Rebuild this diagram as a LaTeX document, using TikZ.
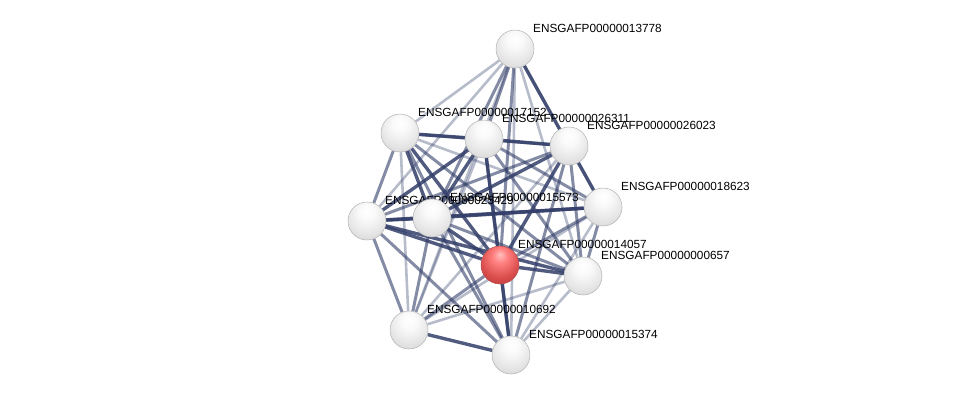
\documentclass[tikz,border=0pt]{standalone}
\usepackage{fontspec}
\setmainfont{Liberation Sans}
\usetikzlibrary{backgrounds}
\definecolor{edgeblue}{RGB}{50,62,105}
\pgfdeclareradialshading{lightball}{\pgfpoint{0bp}{14bp}}{%
	color(0bp)=(white); color(10bp)=(white!96!gray); color(26bp)=(gray!20);
	color(42bp)=(gray!38); color(56bp)=(gray!58); color(70bp)=(gray!68)}
\pgfdeclareradialshading{redball}{\pgfpoint{0bp}{14bp}}{%
	color(0bp)=(red!25); color(10bp)=(red!50); color(26bp)=(red!65!white!85!black);
	color(42bp)=(red!70!white!70!black); color(56bp)=(red!55!black); color(70bp)=(red!45!black)}

\begin{document}
\begin{tikzpicture}
[
	x=1pt,y=-1pt,
	protein/.style={circle,draw=gray!60,line width=0.5pt,shading=lightball,inner sep=0pt,minimum size=38pt},
	querypt/.style={protein,draw=red!40!gray,shading=redball},
	lbl/.style={anchor=west,inner sep=0pt,font=\fontsize{11.8}{12}\selectfont},
	weak/.style={edgeblue,opacity=0.35,line width=2.6pt},
	mid/.style={edgeblue,opacity=0.6,line width=3pt},
	strong/.style={edgeblue,opacity=0.85,line width=3.4pt}
]
	\useasboundingbox (0,0) rectangle (975,400);

	% proteins, each with its label
	\foreach \id/\x/\y in {13778/515/49, 17152/400/133, 26311/484/139, 26023/569/146,
		18623/603/207, 25429/367/221, 15573/432/218, 00657/583/276,
		10692/409/330, 15374/511/355} {
		\node[protein] (p\id) at (\x,\y) {};
		\node[lbl] (l\id) at (\x+18,\y-21) {ENSGAFP000000\id};
	}
	\node[querypt] (p14057) at (500,265) {};
	\node[lbl] (l14057) at (518,244) {ENSGAFP00000014057};

	% interactions
	\begin{scope}[on background layer]
		\foreach \a/\b in {13778/17152, 13778/18623, 13778/25429, 13778/00657,
			13778/10692, 13778/15374, 17152/18623, 17152/10692, 26311/10692,
			26023/10692, 18623/10692, 18623/15374, 00657/10692, 00657/15374} {
			\draw[weak] (p\a) -- (p\b);
		}
		\foreach \a/\b in {13778/26311, 13778/15573, 13778/14057, 17152/26023,
			17152/25429, 17152/00657, 17152/15374, 26311/18623, 26311/00657,
			26311/15374, 26023/25429, 26023/00657, 26023/15374, 18623/14057,
			18623/00657, 25429/10692, 25429/15374, 15573/00657, 15573/10692,
			15573/15374, 14057/10692} {
			\draw[mid] (p\a) -- (p\b);
		}
		\foreach \a/\b in {13778/26023, 17152/26311, 17152/15573, 17152/14057,
			26311/26023, 26311/25429, 26311/15573, 26311/14057, 26023/18623,
			26023/15573, 26023/14057, 18623/25429, 18623/15573, 25429/15573,
			25429/14057, 25429/00657, 15573/14057, 14057/00657, 14057/15374,
			10692/15374} {
			\draw[strong] (p\a) -- (p\b);
		}
	\end{scope}

\end{tikzpicture}
\end{document}
